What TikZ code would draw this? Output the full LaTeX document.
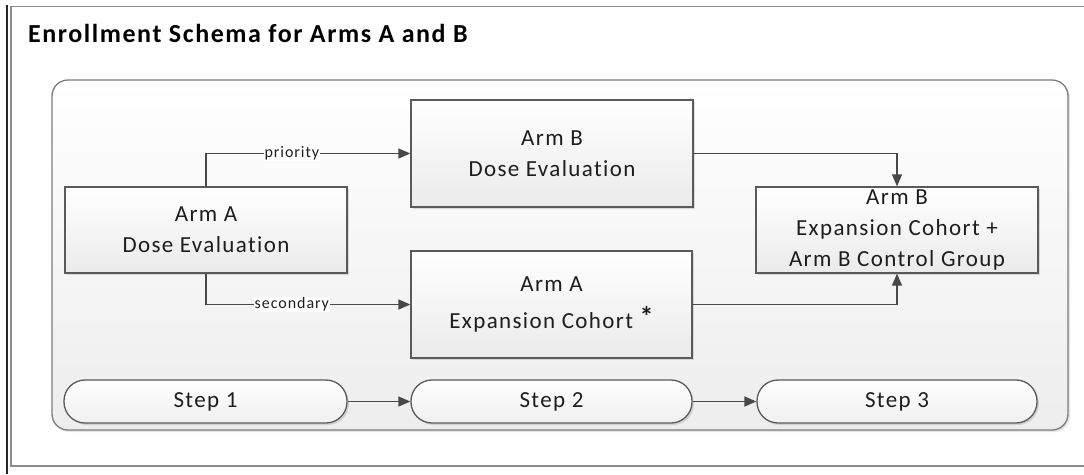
\documentclass[tikz,border=0pt]{standalone}
\usepackage{fontspec}
\setmainfont{Carlito}[LetterSpace=6,Ligatures=NoCommon]
\usetikzlibrary{calc,arrows.meta,shadows}
\definecolor{boxline}{HTML}{5A5A5A}
\definecolor{arrowgray}{HTML}{484848}
\definecolor{panelline}{HTML}{7C7C7C}
\definecolor{txt}{HTML}{1E1E1E}
\tikzset{>={Triangle[length=12pt,width=10pt]},
  box/.style={draw=boxline, line width=1.3pt, top color=white, bottom color=black!8,
    drop shadow={shadow xshift=2pt,shadow yshift=-2pt,opacity=.25},
    minimum width=282pt, minimum height=86pt, inner sep=0pt, align=center,
    text=txt, font=\fontsize{23}{31}\selectfont},
  stepbox/.style={box, rounded corners=21pt, minimum height=43pt, bottom color=black!6},
  lbl/.style={fill=white, inner sep=1pt, text=txt, font=\fontsize{16}{18}\selectfont},
  flow/.style={draw=arrowgray, line width=1.3pt, ->}
}

\begin{document}
\begin{tikzpicture}[x=1pt,y=-1pt]
  \useasboundingbox (0,0) rectangle (1084,474);
  \clip (0,0) rectangle (1084,474);
  \fill[white] (0,0) rectangle (1084,474);
  % outer frame
  \draw[black!85, line width=2pt] (6.5,5) -- (6.5,474);
  \draw[black!45, line width=1.5pt] (1100,6.5) -- (11,6.5) -- (11,466) -- (1100,466);
  \node[anchor=base west, inner sep=0pt, font=\fontsize{26}{30}\selectfont\bfseries] (title) at (28,42)
    {Enrollment Schema for Arms A and B};
  \draw[panelline, line width=1.3pt, rounded corners=16pt, top color=white, bottom color=black!7,
    drop shadow={shadow xshift=2pt,shadow yshift=-2pt,opacity=.2}] (52,80) rectangle (1068,430);

  \node[box] (armAdose) at (206,230) {Arm A\\Dose Evaluation};
  \node[box, minimum height=107pt] (armBdose) at (552,153.5) {Arm B\\Dose Evaluation};
  \node[box, minimum width=281pt, minimum height=107pt] (armAexp) at (551.5,304.5)
    {Arm A\\[6pt]Expansion Cohort \raisebox{2pt}{\fontsize{28}{28}\selectfont\bfseries *}};
  \node[box] (armBexp) at (897,230) {Arm B\\Expansion Cohort +\\Arm B Control Group};

  \node[stepbox, minimum width=283pt] (step1) at (205.5,401.5) {Step 1};
  \node[stepbox, minimum width=281pt] (step2) at (551.5,401.5) {Step 2};
  \node[stepbox, minimum width=280pt] (step3) at (897,401.5) {Step 3};

  \draw[flow] (armAdose.north) |- node[lbl, pos=0.71] {priority} (armBdose.west);
  \draw[flow] (armAdose.south) |- node[lbl, pos=0.71] {secondary} (armAexp.west);
  \draw[flow] (armBdose.east) -| (armBexp.north);
  \draw[flow] (armAexp.east) -| (armBexp.south);
  \draw[flow] (step1) -- (step2);
  \draw[flow] (step2) -- (step3);
\end{tikzpicture}
\end{document}
